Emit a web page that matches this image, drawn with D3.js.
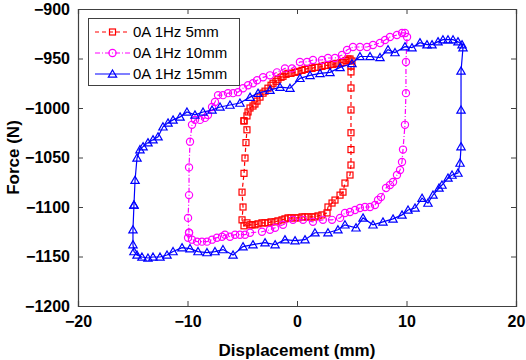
<!DOCTYPE html>
<html><head><meta charset="utf-8">
<script src="https://cdn.jsdelivr.net/npm/d3@7"></script>
<style>body{margin:0;background:#fff}svg{display:block}</style>
</head><body><svg id="c" width="526" height="360"></svg>
<script>
// ---- data ----
const seriesNames = ["0A 1Hz 5mm", "0A 1Hz 10mm", "0A 1Hz 15mm"];
const xTicks = [-20, -10, 0, 10, 20];
const yTicks = [-900, -950, -1000, -1050, -1100, -1150, -1200];

const disp5 = [-4.84,-4.57,-4.47,-4.29,-4.02,-3.84,-3.65,-3.38,-3.1,-2.92,-2.65,-2.37,-2.19,-1.92,-1.74,-1.46,-1.28,-1.0,-0.82,-0.55,-0.18,0.09,0.46,0.73,1.0,1.37,1.64,1.92,2.28,2.56,2.83,3.11,3.29,3.56,3.74,4.02,4.2,4.47,4.66,4.84,5.02,4.93,4.93,4.93,4.93,4.93,4.93,4.93,4.84,4.38,4.2,3.93,3.47,3.2,2.83,2.74,2.28,1.92,1.64,1.37,1.0,0.73,0.46,0.09,-0.18,-0.55,-0.82,-1.1,-1.37,-1.74,-2.0,-2.37,-2.65,-2.92,-3.2,-3.56,-3.84,-4.11,-4.29,-4.57,-4.84,-5.02,-4.93,-5.02,-4.84,-4.75,-4.66,-4.57,-4.84];
const force5 = [-1013,-1008,-1004,-1000,-998,-996,-993,-989,-985,-983,-980,-977,-975,-973,-971,-969,-968,-966,-965,-965,-964,-963,-962,-961,-960,-960,-959,-959,-958,-957,-957,-956,-956,-955,-955,-954,-954,-952,-950.5,-950.5,-952.5,-957.6,-963.6,-979.8,-1002,-1025,-1042,-1057.6,-1067.7,-1075.8,-1085,-1088,-1093,-1096,-1100,-1106,-1108,-1109,-1110,-1110,-1110,-1110,-1110,-1111,-1111,-1111,-1111,-1112,-1113,-1114,-1115,-1115,-1116,-1116,-1116,-1117,-1118,-1118,-1118,-1116,-1119,-1113,-1100,-1085,-1066,-1050.5,-1035,-1022,-1013];

const disp10 = [-9.86,-9.95,-9.86,-9.86,-9.77,-9.59,-9.32,-8.86,-8.4,-8.13,-7.76,-7.49,-7.21,-6.76,-6.3,-5.84,-5.39,-4.93,-4.47,-4.02,-3.65,-3.1,-2.47,-1.83,-1.1,-0.46,0.27,0.91,1.46,2.28,2.83,3.47,4.11,4.57,5.11,5.75,6.39,6.94,7.58,8.04,8.49,9.13,9.59,9.86,10.05,9.95,9.95,9.86,9.68,9.59,9.41,9.13,8.77,8.49,8.13,7.67,7.4,7.12,6.67,6.21,5.75,5.3,4.84,4.38,3.93,3.2,2.37,1.46,0.55,-0.37,-1.28,-2.0,-2.47,-3.2,-4.29,-4.75,-5.21,-5.66,-6.12,-6.58,-6.85,-7.31,-7.76,-8.22,-8.68,-9.13,-9.59,-9.95,-9.86];
const force10 = [-1126,-1111,-1088,-1060,-1034,-1017,-1012,-1012,-1010,-1007,-999,-994,-987,-987,-985,-985,-984,-980,-977,-975,-972,-969,-967,-964,-960,-960,-953.5,-953.5,-951.5,-951.5,-949.5,-949.5,-946.5,-941.4,-938.4,-938.4,-938.4,-936.4,-934.3,-931.3,-928.3,-926.3,-924.2,-924.2,-928.3,-953.5,-985,-1017,-1042,-1054.5,-1062.6,-1067.7,-1074.7,-1077.8,-1080.8,-1090,-1093,-1098,-1100,-1100,-1101,-1103,-1105,-1106,-1111,-1113,-1113,-1115,-1113,-1113,-1118,-1121,-1123,-1125,-1126,-1128,-1128,-1128,-1130,-1128,-1130,-1131,-1133,-1135,-1135,-1135,-1133,-1131,-1126];

const disp15 = [-14.89,-14.79,-14.61,-14.34,-14.06,-13.61,-13.15,-12.69,-12.24,-11.78,-11.32,-10.68,-10.05,-9.32,-8.58,-7.76,-7.03,-6.12,-5.21,-4.29,-3.56,-2.47,-1.55,-0.64,0.27,1.19,2.1,3.01,3.93,5.02,5.75,6.67,7.58,8.31,8.95,9.86,10.5,11.23,11.87,12.33,12.88,13.33,13.79,14.25,14.7,15.07,15.16,14.98,14.98,14.98,14.89,14.7,14.16,13.79,13.24,12.97,12.42,11.96,11.42,10.78,10.14,9.59,8.77,7.85,6.94,6.03,5.39,4.38,3.74,2.83,1.64,0.73,-0.18,-1.1,-2.0,-2.92,-4.02,-4.93,-5.84,-6.76,-7.49,-8.22,-9.04,-9.77,-10.5,-11.32,-11.87,-12.51,-13.15,-13.61,-14.16,-14.61,-14.89,-14.98,-14.98,-14.89];
const force15 = [-1098,-1073,-1050.5,-1042,-1039,-1035,-1032,-1029,-1019,-1015,-1012,-1009,-1004,-1007,-1004,-1002,-999,-997,-995,-989,-985,-982,-979,-980,-970,-967,-965,-964,-959,-955,-948,-948,-949,-941,-944,-938,-939,-934,-936,-936,-933,-931,-931,-931,-933,-936,-939,-962.6,-1002,-1039,-1055.6,-1065.7,-1067.7,-1070.7,-1077.8,-1080.8,-1087.9,-1096,-1091,-1101,-1103,-1108,-1112,-1115,-1118,-1111,-1121,-1118,-1123,-1126,-1126,-1133,-1134,-1133,-1138,-1136,-1138,-1140,-1148.5,-1143,-1145,-1146,-1145,-1142,-1141,-1145,-1148.5,-1150.5,-1150.5,-1151.5,-1150.5,-1148.5,-1145,-1138,-1123,-1098];

const colors = ["#ff0000", "#ff00ff", "#0000ff"];
const dashes = ["4,3", "5,2,1,2", null];
const markers = ["square", "circle", "triangle"];

// ---- layout ----
const svg = d3.select("#c");
const L = 78, R = 516, T = 9, B = 306;
const x = d3.scaleLinear().domain([-20, 20]).range([L, R]);
const y = d3.scaleLinear().domain([-1200, -900]).range([B, T]);

svg.append("rect").attr("x", L).attr("y", T).attr("width", R - L).attr("height", B - T)
  .attr("fill", "#fff");

const font = "'Liberation Sans', Arial, sans-serif";
const axisColor = "#404040";

// axes
const gx = svg.append("g").attr("transform", `translate(0,${B})`)
  .call(d3.axisBottom(x).tickValues(xTicks).tickSize(-5).tickPadding(10).tickFormat(d3.format("d")));
const gxt = svg.append("g").attr("transform", `translate(0,${T})`)
  .call(d3.axisTop(x).tickValues(xTicks).tickSize(-5).tickFormat(""));
const gy = svg.append("g").attr("transform", `translate(${L},0)`)
  .call(d3.axisLeft(y).tickValues(yTicks).tickSize(-5).tickPadding(8).tickFormat(d3.format("d")));
const gyr = svg.append("g").attr("transform", `translate(${R},0)`)
  .call(d3.axisRight(y).tickValues(yTicks).tickSize(-5).tickFormat(""));
[gx, gxt, gy, gyr].forEach(g => {
  g.selectAll("path.domain").attr("stroke", axisColor).attr("stroke-width", 1.2);
  g.selectAll(".tick line").attr("stroke", axisColor);
  g.selectAll("text").attr("font-family", font).attr("font-size", 16)
    .attr("font-weight", "bold").attr("fill", "#000");
});
gx.selectAll("text").attr("dy", "0.71em");

// series
const seriesData = [
  d3.zip(disp5, force5), d3.zip(disp10, force10), d3.zip(disp15, force15)
];
const line = d3.line().x(d => x(d[0])).y(d => y(d[1]));
const tri = d3.symbol().type(d3.symbolTriangle).size(30);
function drawMarker(g, type, color, cx, cy) {
  if (type === "square") {
    g.append("rect").attr("x", cx - 3).attr("y", cy - 3).attr("width", 6).attr("height", 6)
      .attr("fill", "none").attr("stroke", color).attr("stroke-width", 1.2);
  } else if (type === "circle") {
    g.append("circle").attr("cx", cx).attr("cy", cy).attr("r", 3.6)
      .attr("fill", "none").attr("stroke", color).attr("stroke-width", 1.2);
  } else {
    g.append("path").attr("d", tri).attr("transform", `translate(${cx},${cy + 0.8})`)
      .attr("fill", "none").attr("stroke", color).attr("stroke-width", 1.2);
  }
}
seriesData.forEach((data, i) => {
  const g = svg.append("g");
  g.append("path").attr("d", line(data)).attr("fill", "none")
    .attr("stroke", colors[i]).attr("stroke-width", 1.2)
    .attr("stroke-dasharray", dashes[i]);
  data.forEach(d => drawMarker(g, markers[i], colors[i], x(d[0]), y(d[1])));
});

// legend
const lg = svg.append("g");
lg.append("rect").attr("x", 88.5).attr("y", 18.5).attr("width", 151).attr("height", 67)
  .attr("fill", "#fff").attr("stroke", axisColor).attr("stroke-width", 1);
seriesNames.forEach((name, i) => {
  const cy = 32 + i * 21;
  lg.append("line").attr("x1", 95).attr("x2", 130).attr("y1", cy).attr("y2", cy)
    .attr("stroke", colors[i]).attr("stroke-width", 1.2).attr("stroke-dasharray", dashes[i]);
  drawMarker(lg, markers[i], colors[i], 112.5, cy);
  lg.append("text").attr("x", 133).attr("y", cy).attr("dy", "0.35em")
    .attr("font-family", font).attr("font-size", 15).attr("fill", "#000").text(name);
});

// titles
svg.append("text").attr("x", (L + R) / 2).attr("y", 350).attr("dy", "0.35em")
  .attr("text-anchor", "middle").attr("font-family", font).attr("font-size", 17)
  .attr("font-weight", "bold").text("Displacement (mm)");
svg.append("text").attr("transform", `translate(13,${(T + B) / 2}) rotate(-90)`)
  .attr("dy", "0.35em").attr("text-anchor", "middle").attr("font-family", font)
  .attr("font-size", 17).attr("font-weight", "bold").text("Force (N)");
</script></body></html>
